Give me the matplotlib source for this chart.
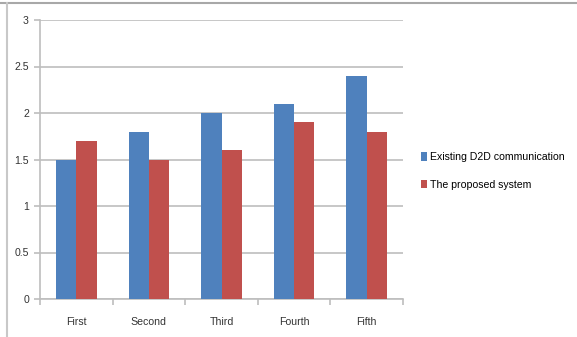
import matplotlib
matplotlib.use('Agg')
import matplotlib.pyplot as plt
from matplotlib.lines import Line2D
import numpy as np

categories = ['First', 'Second', 'Third', 'Fourth', 'Fifth']
existing = [1.5, 1.8, 2.0, 2.1, 2.4]
proposed = [1.7, 1.5, 1.6, 1.9, 1.8]
series_names = ['Existing D2D communication', 'The proposed system']

BLUE = '#4F81BD'
RED = '#C0504D'
GRID = '#BEBEBE'
FS = 7.6

plt.rcParams['font.family'] = ['Liberation Sans', 'DejaVu Sans']

fig = plt.figure(figsize=(5.77, 3.37), dpi=100)
ax = fig.add_axes([40 / 577, 1 - 299 / 337, 363 / 577, 279 / 337])

x = np.arange(len(categories))
w = 0.28
ax.bar(x - w / 2, existing, w, color=BLUE, label=series_names[0], zorder=3)
ax.bar(x + w / 2, proposed, w, color=RED, label=series_names[1], zorder=3)

ax.set_xlim(-0.5, len(categories) - 0.5)
ax.set_ylim(0, 3)
ax.set_yticks(np.arange(0, 3.01, 0.5))
ax.set_yticklabels(['0', '0.5', '1', '1.5', '2', '2.5', '3'])
ax.yaxis.grid(True, color=GRID, linewidth=1.2, zorder=0)
ax.set_xticks(x)
ax.set_xticklabels(categories)
# category boundary ticks along the x axis
ax.set_xticks(np.arange(-0.5, len(categories), 1.0), minor=True)
ax.tick_params(axis='x', which='major', length=0, pad=13, labelsize=FS, labelcolor='#333333')
ax.tick_params(axis='x', which='minor', length=4, color=GRID, width=1.2)
ax.tick_params(axis='y', length=4, color=GRID, width=1.2, pad=4, labelsize=FS, labelcolor='#333333')

for side in ['top', 'right']:
    ax.spines[side].set_visible(False)
for side in ['left', 'bottom']:
    ax.spines[side].set_color(GRID)
    ax.spines[side].set_linewidth(1.2)

ax.legend(loc='center left', bbox_to_anchor=(421 / 577, 1 - 171 / 337),
          bbox_transform=fig.transFigure, frameon=False, fontsize=FS,
          handlelength=0.55, handleheight=0.9, handletextpad=0.3,
          labelspacing=1.65, borderaxespad=0, borderpad=0)

# outer chart frame
fig.add_artist(Line2D([0, 1], [1 - 3 / 337, 1 - 3 / 337], transform=fig.transFigure,
                      color='#A8A8A8', linewidth=1.5))
fig.add_artist(Line2D([7 / 577, 7 / 577], [0, 1 - 3 / 337], transform=fig.transFigure,
                      color='#C8C8C8', linewidth=1.5))

fig.savefig('out.png', dpi=100)
